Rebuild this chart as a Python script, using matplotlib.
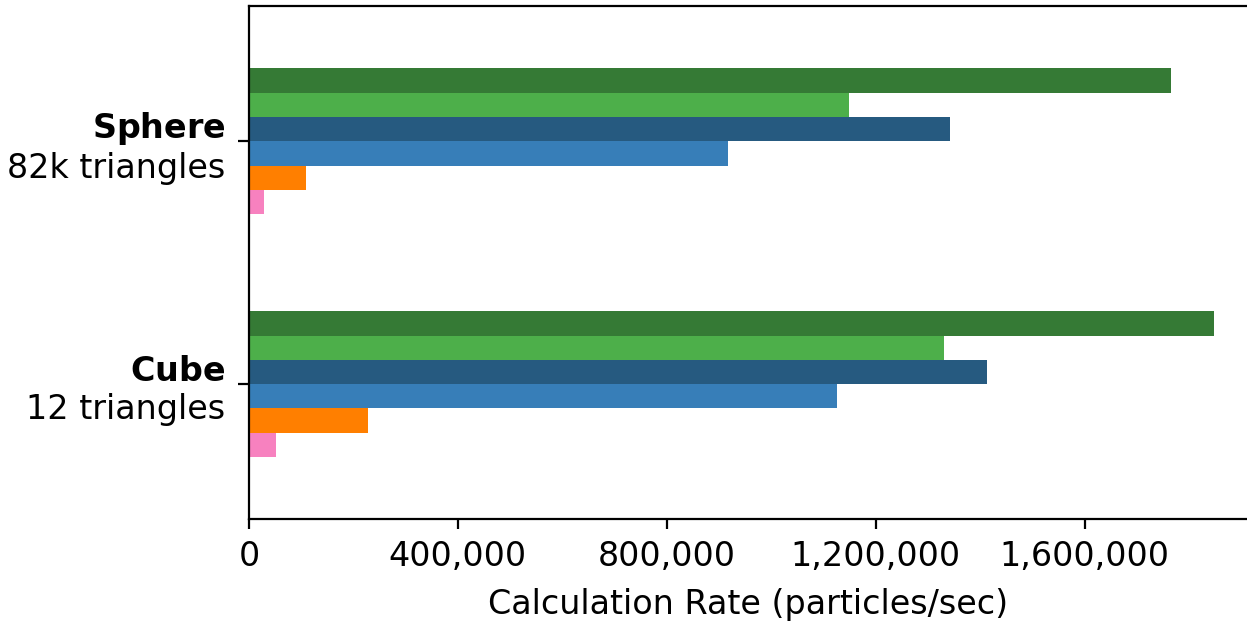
import numpy as np
import matplotlib; matplotlib.use("Agg"); import matplotlib.pyplot as plt

shapes=['Cube','Sphere']
tri=['12 triangles','82k triangles']
# series top-to-bottom within each group; values per shape (Cube, Sphere)
series=['s1','s2','s3','s4','s5','s6']
vals=[[1848000,1765000],
      [1330000,1148000],
      [1414000,1342000],
      [1125000, 918000],
      [ 228000, 109000],
      [  52000,  29000]]
colors=['#357a35','#4daf4a','#265a80','#377eb8','#ff7f00','#f781bf']

plt.rcParams['font.size']=12
fig=plt.figure(figsize=(6.235,3.105),dpi=200)
ax=fig.add_axes([0.1997,0.1643,0.8003,0.826])
y=np.arange(len(shapes)); h=0.1
for i,(s,v,c) in enumerate(zip(series,vals,colors)):
    ax.barh(y+0.25-h*i,v,height=h,color=c,label=s)
ax.set_yticks(y)
ax.set_yticklabels([r"$\bf{%s}$"%s+"\n"+t for s,t in zip(shapes,tri)])
ax.tick_params(axis='y',length=4,pad=4.5)
ax.tick_params(axis='x',pad=4.2)
ax.set_ylim(-0.555,1.557)
ax.set_xlim(0,1911000)
ax.set_xticks([0,400000,800000,1200000,1600000])
ax.set_xticklabels(['0','400,000','800,000','1,200,000','1,600,000'])
ax.set_xlabel('Calculation Rate (particles/sec)',labelpad=5.2)
ax.spines['right'].set_visible(False)
fig.savefig('out.png',dpi=200)
